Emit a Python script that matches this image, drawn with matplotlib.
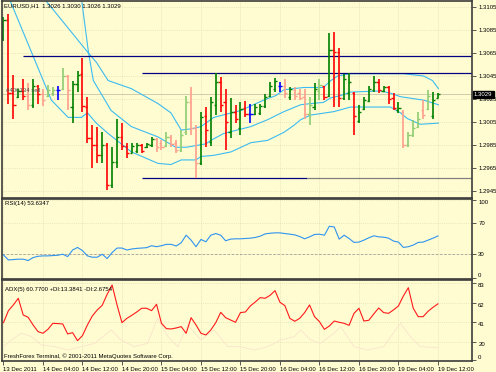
import matplotlib.pyplot as plt
import numpy as np

# EURUSD H1 bars, 13 Dec 2011 20:00 -> 19 Dec 2011 12:00
opens = [1.3078, 1.3094, 1.3030, 1.3027, 1.3032, 1.3028, 1.3020, 1.3036, 1.3029, 1.3028,
         1.3030, 1.3033, 1.3034, 1.3045, 1.3018, 1.3038, 1.3047, 1.3018, 1.2991, 1.2985,
         1.2976, 1.2985, 1.2950, 1.2970, 1.2992, 1.2984, 1.2978, 1.2980, 1.2985, 1.2983,
         1.2985, 1.2990, 1.2987, 1.2984, 1.2992, 1.2987, 1.2981, 1.2996, 1.3022, 1.3000,
         1.2969, 1.3010, 1.2988, 1.3020, 1.3040, 1.3022, 1.2996, 1.3014, 1.3000, 1.3017,
         1.3012, 1.3012, 1.3013, 1.3019, 1.3028, 1.3034, 1.3036, 1.3036, 1.3027, 1.3033,
         1.3030, 1.3027, 1.3012, 1.3018, 1.3032, 1.3036, 1.3028, 1.3068, 1.3066, 1.3026,
         1.3030, 1.3030, 1.3006, 1.3016, 1.3023, 1.3033, 1.3040, 1.3032, 1.3035, 1.3026,
         1.3015, 1.3014, 1.2985, 1.2994, 1.3001, 1.3015, 1.3016, 1.3010, 1.3026]
highs = [1.3096, 1.3099, 1.3046, 1.3034, 1.3042, 1.3039, 1.3042, 1.3037, 1.3034, 1.3037,
         1.3035, 1.3036, 1.3052, 1.3046, 1.3041, 1.3049, 1.3061, 1.3027, 1.3002, 1.3001,
         1.2996, 1.2987, 1.2983, 1.3008, 1.3004, 1.2987, 1.2987, 1.2987, 1.2986, 1.2987,
         1.2992, 1.2991, 1.2989, 1.2996, 1.2994, 1.2989, 1.2998, 1.3028, 1.3035, 1.3002,
         1.3014, 1.3018, 1.3027, 1.3048, 1.3044, 1.3034, 1.3026, 1.3020, 1.3022, 1.3023,
         1.3021, 1.3021, 1.3021, 1.3029, 1.3040, 1.3043, 1.3040, 1.3042, 1.3035, 1.3035,
         1.3034, 1.3034, 1.3027, 1.3039, 1.3042, 1.3036, 1.3082, 1.3083, 1.3069, 1.3047,
         1.3048, 1.3031, 1.3020, 1.3027, 1.3036, 1.3045, 1.3042, 1.3036, 1.3036, 1.3030,
         1.3022, 1.3015, 1.2996, 1.3007, 1.3014, 1.3024, 1.3033, 1.3031, 1.3030]
lows = [1.3075, 1.3021, 1.3008, 1.3026, 1.3024, 1.3015, 1.3017, 1.3021, 1.3019, 1.3027,
        1.3028, 1.3024, 1.3033, 1.3015, 1.3004, 1.3031, 1.3014, 1.2987, 1.2965, 1.2969,
        1.2969, 1.2946, 1.2948, 1.2965, 1.2981, 1.2974, 1.2978, 1.2978, 1.2978, 1.2982,
        1.2983, 1.2979, 1.2981, 1.2983, 1.2983, 1.2978, 1.2979, 1.2994, 1.2994, 1.2956,
        1.2968, 1.2983, 1.2984, 1.3011, 1.3014, 1.2981, 1.2991, 1.3004, 1.2994, 1.3009,
        1.3004, 1.3011, 1.3011, 1.3017, 1.3027, 1.3031, 1.3031, 1.3026, 1.3024, 1.3024,
        1.3024, 1.3008, 1.3002, 1.3015, 1.3024, 1.3024, 1.3027, 1.3018, 1.3018, 1.3024,
        1.3024, 1.2994, 1.3004, 1.3015, 1.3022, 1.3031, 1.3030, 1.3031, 1.3021, 1.3015,
        1.3013, 1.2982, 1.2983, 1.2992, 1.3000, 1.3008, 1.3015, 1.3008, 1.3026]
closes = [1.3094, 1.3030, 1.3020, 1.3032, 1.3028, 1.3020, 1.3036, 1.3029, 1.3024, 1.3033,
          1.3033, 1.3033, 1.3045, 1.3033, 1.3038, 1.3046, 1.3019, 1.2991, 1.2985, 1.2976,
          1.2985, 1.2950, 1.2970, 1.2992, 1.2984, 1.2978, 1.2984, 1.2985, 1.2980, 1.2986,
          1.2990, 1.2983, 1.2983, 1.2992, 1.2986, 1.2981, 1.2994, 1.3022, 1.3000, 1.2969,
          1.3009, 1.2998, 1.3022, 1.3040, 1.3020, 1.3005, 1.3014, 1.3008, 1.3016, 1.3012,
          1.3012, 1.3018, 1.3019, 1.3027, 1.3036, 1.3041, 1.3036, 1.3030, 1.3034, 1.3028,
          1.3026, 1.3012, 1.3020, 1.3034, 1.3037, 1.3027, 1.3068, 1.3066, 1.3026, 1.3042,
          1.3040, 1.3010, 1.3014, 1.3024, 1.3034, 1.3040, 1.3033, 1.3035, 1.3025, 1.3017,
          1.3017, 1.2985, 1.2994, 1.3000, 1.3008, 1.3011, 1.3028, 1.3024, 1.3029]
# G bull, R bear, LG / P faded bull / bear, B marked bar
bar_tone = ['G', 'R', 'R', 'G', 'R', 'P', 'G', 'R', 'P', 'LG',
            'LG', 'B', 'LG', 'P', 'G', 'G', 'R', 'R', 'R', 'R',
            'G', 'R', 'G', 'G', 'R', 'R', 'G', 'G', 'R', 'G',
            'G', 'P', 'P', 'LG', 'P', 'P', 'LG', 'LG', 'P', 'P',
            'G', 'R', 'G', 'G', 'R', 'R', 'G', 'R', 'G', 'R',
            'B', 'G', 'G', 'G', 'G', 'G', 'B', 'P', 'G', 'P',
            'P', 'P', 'LG', 'G', 'LG', 'R', 'G', 'R', 'R', 'G',
            'G', 'R', 'G', 'G', 'G', 'G', 'R', 'G', 'R', 'R',
            'G', 'P', 'LG', 'LG', 'LG', 'P', 'LG', 'G', 'G']

# band lines, read as (bar, price) points
band_a_x = [1.2, 9.7, 13.1, 15.8, 17.0, 18.8, 21.2, 25.9, 31.3, 33.9, 36.0, 39.0, 40.0, 42.6,
            46.1, 50.1, 53.5, 56.8, 58.8, 60.2, 62.2, 66.9, 70.3, 78.4, 80.4, 81.8, 84.4, 88.1]
band_a_y = [1.3112, 1.3024, 1.3009, 1.3009, 1.3013, 1.3004, 1.2995, 1.2979, 1.2969, 1.2968,
            1.2972, 1.2972, 1.2975, 1.2976, 1.2979, 1.2987, 1.2989, 1.2996, 1.3002, 1.3007,
            1.3011, 1.3014, 1.3018, 1.3018, 1.3013, 1.3008, 1.3003, 1.3004]
band_b_x = [8.3, 17.0, 18.8, 21.2, 25.9, 31.3, 33.9, 36.0, 38.0, 40.0, 42.6, 48.1, 50.1,
            52.7, 55.2, 56.8, 58.8, 60.8, 64.8, 66.3, 67.7, 70.3, 81.0, 85.1, 86.9, 88.1]
band_b_y = [1.3112, 1.3066, 1.3057, 1.3041, 1.3034, 1.3021, 1.3013, 1.2998, 1.2999, 1.3001,
            1.3009, 1.3015, 1.3019, 1.3024, 1.3028, 1.3033, 1.3034, 1.3035, 1.3035, 1.3041,
            1.3045, 1.3047, 1.3047, 1.3045, 1.3041, 1.3034]
band_c_x = [15.8, 17.2, 18.2, 21.8, 25.9, 31.3, 34.9, 37.0, 41.0, 42.0, 44.6, 50.1, 53.5,
            56.8, 60.2, 62.2, 64.8, 66.3, 68.3, 70.3, 76.4, 78.4, 80.4, 85.1, 88.1]
band_c_y = [1.3112, 1.3066, 1.3041, 1.3015, 1.3001, 1.2992, 1.2983, 1.2983, 1.2986, 1.2989,
            1.2995, 1.3001, 1.3007, 1.3014, 1.3020, 1.3021, 1.3022, 1.3026, 1.3028, 1.3031,
            1.3032, 1.3030, 1.3027, 1.3024, 1.3020]

# horizontal lines: (start bar, price)
hline_starts = [4.0, 28.1]
hline_prices = [1.3062, 1.3048]
support_start, support_end, support_price = 28.1, 61.4, 1.2956

rsi = [29.4, 23.0, 23.5, 24.0, 24.0, 22.3, 26.0, 27.7, 28.2, 28.2,
       28.6, 29.0, 30.3, 27.3, 35.7, 39.0, 34.9, 28.2, 26.5, 26.5,
       30.3, 24.8, 32.4, 38.2, 38.2, 35.7, 37.0, 37.8, 38.2, 38.7,
       41.2, 39.9, 41.2, 42.9, 42.9, 40.8, 45.0, 54.6, 48.3, 39.9,
       49.2, 46.2, 54.6, 56.7, 54.6, 47.5, 49.6, 50.0, 50.0, 50.4,
       50.8, 51.7, 53.4, 56.3, 57.1, 57.6, 57.6, 56.7, 55.9, 55.0,
       52.9, 50.0, 52.5, 55.5, 55.9, 54.6, 66.0, 65.1, 49.6, 54.6,
       50.4, 45.4, 45.8, 48.3, 51.3, 53.8, 52.5, 52.1, 50.8, 47.1,
       45.8, 39.0, 39.9, 42.0, 45.4, 45.8, 48.3, 50.8, 53.63]
adx = [40.4, 53.4, 59.6, 66.8, 48.7, 46.2, 37.9, 30.7, 28.9, 33.2,
       39.7, 39.4, 39.0, 28.2, 29.6, 20.9, 26.4, 37.9, 47.7, 54.2,
       59.2, 71.1, 81.2, 59.6, 40.4, 45.1, 48.4, 52.0, 56.0, 56.0,
       53.4, 60.3, 39.7, 33.9, 33.6, 34.7, 36.1, 28.9, 45.8, 37.9,
       28.9, 27.1, 32.5, 40.4, 51.6, 45.8, 43.3, 40.8, 51.3, 52.0,
       58.5, 62.8, 67.5, 66.8, 70.0, 75.1, 62.5, 58.8, 45.1, 41.9,
       45.1, 51.3, 59.6, 46.9, 41.5, 33.2, 36.8, 42.2, 40.8, 39.7,
       37.5, 50.5, 56.0, 42.2, 43.0, 49.8, 56.3, 51.3, 50.5, 54.2,
       58.5, 69.3, 78.3, 56.0, 46.9, 46.9, 52.7, 57.0, 60.77]
di_x = [0, 1.6, 3.6, 5.7, 7.7, 10.4, 13.1, 15.8, 18.5, 21.8, 23.8, 26.5, 29.2, 31.2, 33.3,
        35.3, 37.3, 40.0, 42.7, 45.4, 48.1, 50.8, 53.5, 56.2, 58.9, 60.2, 62.2, 64.2, 66.9,
        68.3, 71.0, 73.7, 77.0, 80.4, 82.4, 84.4, 88.0]
di_y = [14.4, 21.7, 28.9, 25.3, 16.2, 14.4, 10.8, 14.4, 18.1, 32.5, 21.7, 14.4, 18.1, 45.1, 25.3,
        14.4, 37.9, 21.7, 32.5, 14.4, 14.4, 10.8, 14.4, 21.7, 25.3, 32.5, 21.7, 18.1, 28.9,
        36.1, 14.4, 10.8, 14.4, 39.7, 25.3, 14.4, 13.4]

time_labels = ['13 Dec 2011', '14 Dec 04:00', '14 Dec 12:00', '14 Dec 20:00', '15 Dec 04:00',
               '15 Dec 12:00', '15 Dec 20:00', '16 Dec 04:00', '16 Dec 12:00', '16 Dec 20:00',
               '19 Dec 04:00', '19 Dec 12:00']
price_ticks = [1.3105, 1.3085, 1.3065, 1.3045, 1.3025, 1.3005, 1.2985, 1.2965, 1.2945]
rsi_ticks = [100, 70, 30, 0]
adx_ticks = [83, 62, 41, 20, 0]

plt.rcParams['font.family'] = ['Liberation Sans', 'DejaVu Sans']
BG = '#fffcd2'
EDGE = '#3c3c3c'
FS = 4.3
tone_colors = {'G': '#008000', 'R': '#ff0000', 'LG': '#8fcc72', 'P': '#ff9e8c', 'B': '#0000ff'}

W, H = 496, 372
fig = plt.figure(figsize=(W / 100, H / 100), dpi=100, facecolor=BG)


def box(x0, y0, x1, y1):
    return [x0 / W, 1 - y1 / H, (x1 - x0) / W, (y1 - y0) / H]


ax = fig.add_axes(box(2, 1, 472, 198))
ax_rsi = fig.add_axes(box(2, 199, 472, 279), sharex=ax)
ax_adx = fig.add_axes(box(2, 280, 472, 361), sharex=ax)

x = np.arange(len(opens))
XR = 94.9
for a in (ax, ax_rsi, ax_adx):
    a.set_facecolor(BG)
    for s in a.spines.values():
        s.set_color(EDGE)
        s.set_linewidth(1.2)
    a.grid(True, color='#dcd6a6', lw=0.5, ls=':')
    a.set_axisbelow(True)
    a.yaxis.tick_right()
    a.tick_params(axis='y', length=3, width=0.6, pad=1.5, labelsize=FS, color=EDGE)
    a.tick_params(axis='x', length=0, labelbottom=False)
ax.set_xlim(-0.3, XR)

# --- price panel ---
ax.set_ylim(1.29389, 1.31102)
ax.set_yticks(price_ticks, [f'{p:.4f}' for p in price_ticks])

ax.axhline(closes[-1], color='#c8c4a8', lw=0.6)
ax.plot(band_a_x, band_a_y, color='#3cbcf0', lw=0.8)
ax.plot(band_b_x, band_b_y, color='#3cbcf0', lw=0.8)
ax.plot(band_c_x, band_c_y, color='#3cbcf0', lw=0.8)
ax.hlines(hline_prices, hline_starts, XR, color='#000080', lw=0.9)
ax.hlines(support_price, support_start, support_end, color='#000080', lw=0.9)
ax.hlines(support_price, support_end, XR, color='#808080', lw=0.9)

cols = [tone_colors[t] for t in bar_tone]
tk = 0.45
ax.vlines(x, lows, highs, colors=cols, lw=1.2)
ax.hlines(opens, x - tk, x, colors=cols, lw=1.0)
ax.hlines(closes, x, x + tk, colors=cols, lw=1.0)

fig.text(4 / W, 1 - 6 / H, 'EURUSD,H1  1.3026 1.3030 1.3026 1.3029', fontsize=FS,
         va='center', ha='left', color='black')
fig.text(6 / W, 1 - 90 / H, '#400134 sell', fontsize=FS, va='center', ha='left', color='#505050')
ax.text(1.004, closes[-1], f'{closes[-1]:.4f}', transform=ax.get_yaxis_transform(),
        fontsize=FS, color='white', va='center', ha='left', clip_on=False,
        bbox=dict(boxstyle='square,pad=0.2', fc='black', ec='black'))

# --- RSI panel ---
ax_rsi.set_ylim(-1.3, 100.8)
ax_rsi.set_yticks(rsi_ticks, [str(v) for v in rsi_ticks])
ax_rsi.axhline(30, color='#a0a0a0', lw=0.6, ls=(0, (3, 2)))
ax_rsi.plot(x, rsi, color='#2f93f0', lw=0.8)
labs = ax_rsi.get_yticklabels()
labs[0].set_va('top')
labs[-1].set_va('bottom')
fig.text(5 / W, 1 - 204 / H, 'RSI(14) 53.6347', fontsize=FS, va='center', ha='left')

# --- ADX panel ---
ax_adx.set_ylim(-1.1, 86.6)
ax_adx.set_yticks(adx_ticks, [str(v) for v in adx_ticks])
ax_adx.plot(di_x, di_y, color='#f9e4cc', lw=0.6)
ax_adx.plot(x, adx, color='#ff1a1a', lw=0.8)
for lab in ax_adx.get_yticklabels()[:-1]:
    lab.set_va('top')
ax_adx.get_yticklabels()[-1].set_va('bottom')
fig.text(5 / W, 1 - 289 / H, 'ADX(5) 60.7700 +DI:13.3841 -DI:2.6754', fontsize=FS,
         va='center', ha='left')
fig.text(4 / W, 1 - 356 / H, 'FreshForex Terminal, \u00a9 2001-2011 MetaQuotes Software Corp.',
         fontsize=FS, va='center', ha='left')

ax_adx.set_xticks(np.arange(0, 89, 8), time_labels)
ax_adx.tick_params(axis='x', length=3, width=0.6, pad=1, labelsize=FS, labelbottom=True,
                   color=EDGE)
for lab in ax_adx.get_xticklabels():
    lab.set_ha('left')

fig.savefig('out.png', dpi=100, facecolor=BG)
